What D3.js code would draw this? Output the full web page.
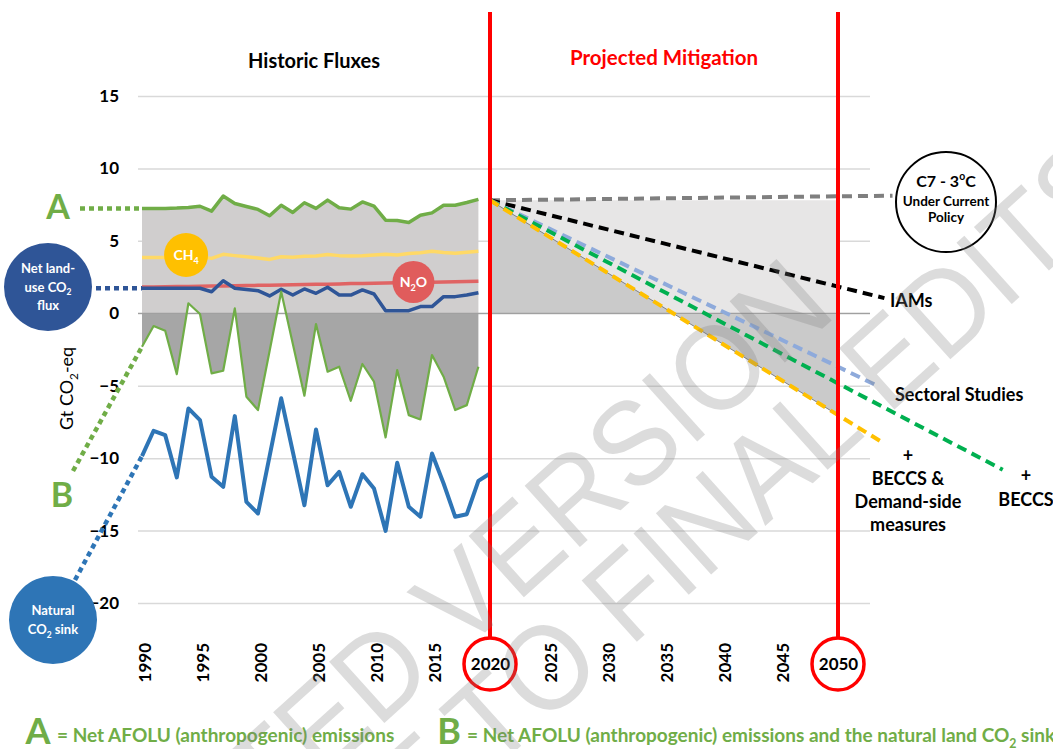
<!DOCTYPE html>
<meta charset="utf-8">
<style>
body { margin: 0; background: #fff; }
svg { display: block; font-family: Lato, "Open Sans", sans-serif; }
</style>
<svg width="1053" height="749"></svg>
<script src="https://cdn.jsdelivr.net/npm/d3@7"></script>
<script>
// historic series, Gt CO2-eq per year
var years = [1990, 1991, 1992, 1993, 1994, 1995, 1996, 1997, 1998, 1999,
             2000, 2001, 2002, 2003, 2004, 2005, 2006, 2007, 2008, 2009,
             2010, 2011, 2012, 2013, 2014, 2015, 2016, 2017, 2018, 2019];
var netAfolu = [7.24, 7.24, 7.24, 7.26, 7.3, 7.39, 7.05, 8.09, 7.58, 7.37,
                7.17, 6.73, 7.46, 6.96, 7.63, 7.24, 7.81, 7.28, 7.19, 7.69,
                7.39, 6.43, 6.41, 6.27, 6.77, 6.93, 7.46, 7.46, 7.65, 7.86];
var ch4 = [3.85, 3.85, 3.85, 3.86, 3.86, 3.88, 3.79, 4.07, 3.98, 3.9,
           3.82, 3.72, 3.9, 3.87, 3.94, 3.96, 4.06, 3.98, 3.96, 3.98,
           4.03, 4.08, 4.02, 4.12, 4.18, 4.28, 4.2, 4.14, 4.22, 4.28];
var n2o = [1.82, 1.82, 1.83, 1.85, 1.85, 1.86, 1.88, 1.88, 1.9, 1.91,
           1.93, 1.94, 1.95, 1.97, 1.99, 2.0, 2.01, 2.03, 2.05, 2.05,
           2.07, 2.09, 2.1, 2.12, 2.13, 2.14, 2.16, 2.18, 2.19, 2.21];
var landUse = [1.73, 1.73, 1.73, 1.73, 1.73, 1.73, 1.49, 2.25, 1.73, 1.65,
               1.56, 1.2, 1.66, 1.26, 1.68, 1.38, 1.8, 1.26, 1.26, 1.61,
               1.33, 0.18, 0.18, 0.18, 0.46, 0.46, 1.15, 1.15, 1.26, 1.42];
var netWithSink = [-2.31, -0.88, -1.2, -4.2, 0.69, -0.05, -4.15, -3.97, 0.34, -5.76,
                   -6.68, -2.6, 1.49, -2.1, -5.69, -0.74, -4.03, -3.69, -6.04, -3.5,
                   -4.72, -8.57, -3.92, -7.03, -7.33, -2.88, -4.38, -6.68, -6.34, -3.69];
var sinkYears = years.concat([2020]);
var naturalSink = [-9.86, -8.11, -8.41, -11.33, -6.57, -7.37, -11.29, -11.98, -7.1, -13.02,
                   -13.82, -9.86, -5.87, -9.56, -13.25, -8.02, -11.87, -10.95, -13.36, -11.11,
                   -12.1, -15.02, -10.32, -13.36, -14.05, -9.68, -11.75, -14.05, -13.87, -11.57, -11.06];

// projected pathways from 2020
var c7Years = [2020, 2054.7], c7Values = [7.8, 8.12];
var iamYears = [2020, 2050, 2054], iamValues = [7.8, 1.84, 1.05];
var sectoralYears = [2020, 2050, 2053.5], sectoralValues = [7.8, -3.69, -5.05];
var beccsYears = [2020, 2050, 2064.2], beccsValues = [7.8, -4.84, -10.8];
var demandYears = [2020, 2050, 2053.6], demandValues = [7.8, -7.03, -8.8];

// axes
var yTicks = [-20, -15, -10, -5, 0, 5, 10, 15];
var xTicks = [1990, 1995, 2000, 2005, 2010, 2015, 2020, 2025, 2030, 2035, 2040, 2045, 2050];
var circledYears = [2020, 2050];

var svg = d3.select("svg");
var gridLeft = 138, gridRight = 870;

var x = d3.scaleLinear().domain([1990, 2050]).range([142, 838]);
var y = d3.scaleLinear().domain([-20, 15]).range([603, 96]);

function pts(xs, vs) { return xs.map(function(d, i) { return [d, vs[i]]; }); }

var line = d3.line()
    .x(function(d) { return x(d[0]); })
    .y(function(d) { return y(d[1]); });

// text with sub/superscripts: parts are strings or [text, "sub"|"sup"]
function rich(t, parts, size) {
  var reset = 0;
  parts.forEach(function(p) {
    if (typeof p === "string") {
      t.append("tspan").attr("dy", reset || null).text(p);
      reset = 0;
    } else {
      var s = p[1] === "sub" ? size * 0.3 : -size * 0.45;
      t.append("tspan").attr("dy", s).attr("font-size", size * 0.65).text(p[0]);
      reset = -s;
    }
  });
  return t;
}

// gridlines
svg.append("g")
    .attr("transform", "translate(" + gridLeft + ",0)")
    .call(d3.axisLeft(y).tickValues(yTicks).tickSize(-(gridRight - gridLeft)).tickFormat(""))
    .call(function(g) { g.select(".domain").remove(); })
  .selectAll("line")
    .attr("stroke", "#d9d9d9")
    .attr("stroke-width", 1.5);

// clip regions above / below zero
var defs = svg.append("defs");
defs.append("clipPath").attr("id", "above")
  .append("rect").attr("x", 0).attr("y", 0).attr("width", 1053).attr("height", y(0));
defs.append("clipPath").attr("id", "below")
  .append("rect").attr("x", 0).attr("y", y(0)).attr("width", 1053).attr("height", 749);

// historic shaded areas
var hist = years.map(function(d, i) { return { year: d, a: netAfolu[i], b: netWithSink[i] }; });
svg.append("path")
    .datum(hist)
    .attr("fill", "#d0cece")
    .attr("d", d3.area().x(function(d) { return x(d.year); })
      .y0(y(0)).y1(function(d) { return y(d.a); }));
var bArea = d3.area().x(function(d) { return x(d.year); })
    .y0(y(0)).y1(function(d) { return y(d.b); });
svg.append("path").datum(hist)
    .attr("clip-path", "url(#below)")
    .attr("fill", "#a6a6a6")
    .attr("d", bArea);
svg.append("path").datum(hist)
    .attr("clip-path", "url(#above)")
    .attr("fill", "#fff")
    .attr("d", bArea);

// projected mitigation band
var band = demandYears.slice(0, 2).map(function(d, i) {
  return { year: d, top: demandValues[0], floor: demandValues[i] };
});
svg.append("path").datum(band)
    .attr("fill", "#e7e6e6")
    .attr("d", d3.area().x(function(d) { return x(d.year); })
      .y0(y(0)).y1(function(d) { return y(d.top); }));
svg.append("path").datum(band)
    .attr("fill", "#cacaca")
    .attr("d", d3.area().x(function(d) { return x(d.year); })
      .y0(y(0)).y1(function(d) { return y(d.floor); }));
svg.append("path").datum(pts(demandYears.slice(0, 2), demandValues.slice(0, 2)))
    .attr("fill", "none").attr("stroke", "#808080").attr("stroke-width", 1)
    .attr("d", line);

// zero line
svg.append("line")
    .attr("x1", gridLeft).attr("x2", gridRight)
    .attr("y1", y(0)).attr("y2", y(0))
    .attr("stroke", "#a0a0a0").attr("stroke-width", 1.2);

// pathway dashed lines
var pathways = [
  { xs: c7Years, vs: c7Values, color: "#7f7f7f" },
  { xs: iamYears, vs: iamValues, color: "#000" },
  { xs: sectoralYears, vs: sectoralValues, color: "#8eaadb" },
  { xs: beccsYears, vs: beccsValues, color: "#00b050" },
  { xs: demandYears, vs: demandValues, color: "#ffc000" }
];
pathways.forEach(function(p) {
  svg.append("path")
      .datum(pts(p.xs, p.vs))
      .attr("fill", "none")
      .attr("stroke", p.color)
      .attr("stroke-width", 4)
      .attr("stroke-dasharray", "10,6")
      .attr("d", line);
});

// historic lines
var series = [
  { vs: netAfolu, xs: years, color: "#70ad47", w: 3.5 },
  { vs: ch4, xs: years, color: "#ffd966", w: 3.5 },
  { vs: n2o, xs: years, color: "#e06464", w: 3.5 },
  { vs: landUse, xs: years, color: "#2f5597", w: 3.5 },
  { vs: netWithSink, xs: years, color: "#70ad47", w: 2.2 },
  { vs: naturalSink, xs: sinkYears, color: "#2e75b6", w: 4 }
];
series.forEach(function(s) {
  svg.append("path")
      .datum(pts(s.xs, s.vs))
      .attr("fill", "none")
      .attr("stroke", s.color)
      .attr("stroke-width", s.w)
      .attr("stroke-linejoin", "round")
      .attr("d", line);
});

// y axis labels
svg.append("g")
    .attr("transform", "translate(119,0)")
    .call(d3.axisLeft(y).tickValues(yTicks).tickSize(0).tickPadding(0))
    .call(function(g) { g.select(".domain").remove(); })
  .selectAll("text")
    .attr("font-family", "Lato, sans-serif")
    .attr("font-size", 17)
    .attr("font-weight", "bold")
    .attr("fill", "#000");

rich(svg.append("text")
    .attr("transform", "translate(73,430) rotate(-90)")
    .attr("font-size", 18)
    .attr("fill", "#000"), ["Gt CO", ["2", "sub"], "-eq"], 18);

// vertical markers at 2020 and 2050
circledYears.forEach(function(yr) {
  svg.append("line")
      .attr("x1", x(yr)).attr("x2", x(yr))
      .attr("y1", 12).attr("y2", 638)
      .attr("stroke", "#ff0000").attr("stroke-width", 4);
  svg.append("circle")
      .attr("cx", x(yr)).attr("cy", 664).attr("r", 26)
      .attr("fill", "#fff").attr("stroke", "#ff0000").attr("stroke-width", 3.5);
});

// x axis
var xAxis = svg.append("g")
    .attr("transform", "translate(0,643)")
    .call(d3.axisBottom(x).tickValues(xTicks).tickFormat(d3.format("d")).tickSize(0))
    .call(function(g) { g.select(".domain").remove(); });
xAxis.selectAll("text")
    .attr("font-family", "Lato, sans-serif")
    .attr("font-size", 17)
    .attr("font-weight", "bold")
    .attr("fill", "#000")
    .attr("transform", "rotate(-90)")
    .attr("text-anchor", "end")
    .attr("x", 0)
    .attr("y", 3)
    .attr("dy", "0.35em");
xAxis.selectAll(".tick")
    .filter(function(d) { return circledYears.indexOf(d) >= 0; })
  .select("text")
    .attr("transform", null)
    .attr("text-anchor", "middle")
    .attr("x", 0)
    .attr("y", 21)
    .attr("dy", "0.35em");

// section titles
svg.append("text")
    .attr("x", 314).attr("y", 68)
    .attr("text-anchor", "middle")
    .attr("font-size", 20).attr("font-weight", "bold")
    .text("Historic Fluxes");
svg.append("text")
    .attr("x", 664).attr("y", 65)
    .attr("text-anchor", "middle")
    .attr("font-size", 20.5).attr("font-weight", "bold")
    .attr("fill", "#ff0000")
    .text("Projected Mitigation");

// left legend: connectors
function dotted(x1, y1, x2, y2, color) {
  svg.append("line")
      .attr("x1", x1).attr("y1", y1).attr("x2", x2).attr("y2", y2)
      .attr("stroke", color).attr("stroke-width", 4.5)
      .attr("stroke-dasharray", "5,4");
}
dotted(80, y(netAfolu[0]), x(1990), y(netAfolu[0]), "#70ad47");
dotted(96, y(landUse[0]), x(1990), y(landUse[0]), "#2f5597");
dotted(73, 471, x(1990), y(netWithSink[0]), "#70ad47");
dotted(75, 580, x(1990), y(naturalSink[0]), "#2e75b6");

function bigLetter(t, cx, cy, size) {
  svg.append("text")
      .attr("x", cx).attr("y", cy)
      .attr("text-anchor", "middle")
      .attr("font-size", size).attr("font-weight", "bold")
      .attr("fill", "#70ad47")
      .text(t);
}
bigLetter("A", 58, 219, 34);
bigLetter("B", 62, 507, 34);

function bubble(cx, cy, r, fill, lines, size) {
  svg.append("circle").attr("cx", cx).attr("cy", cy).attr("r", r).attr("fill", fill);
  lines.forEach(function(l, i) {
    rich(svg.append("text")
        .attr("x", cx).attr("y", cy + (i - (lines.length - 1) / 2) * size * 1.4 + size * 0.35)
        .attr("text-anchor", "middle")
        .attr("font-size", size).attr("font-weight", "bold")
        .attr("fill", "#fff"), l, size);
  });
}
bubble(48, 287, 44, "#2f5597", [["Net land-"], ["use CO", ["2", "sub"]], ["flux"]], 13);
bubble(53, 620, 44, "#2e75b6", [["Natural"], ["CO", ["2", "sub"], " sink"]], 13);
bubble(x(1993.8), 255, 22, "#ffc000", [["CH", ["4", "sub"]]], 14);
bubble(x(2013.4), 282, 21, "#e05c5c", [["N", ["2", "sub"], "O"]], 14);

// C7 bubble
svg.append("circle").attr("cx", 946).attr("cy", 202).attr("r", 50)
    .attr("fill", "#fff").attr("stroke", "#000").attr("stroke-width", 2);
rich(svg.append("text").attr("x", 946).attr("y", 187).attr("text-anchor", "middle")
    .attr("font-size", 16).attr("font-weight", "bold"),
    ["C7 - 3", ["o", "sup"], "C"], 16);
svg.append("text").attr("x", 946).attr("y", 206).attr("text-anchor", "middle")
    .attr("font-size", 13.5).attr("font-weight", "bold").text("Under Current");
svg.append("text").attr("x", 946).attr("y", 222).attr("text-anchor", "middle")
    .attr("font-size", 13.5).attr("font-weight", "bold").text("Policy");

// pathway labels
function label(t, px, py, anchor) {
  svg.append("text")
      .attr("x", px).attr("y", py)
      .attr("text-anchor", anchor || "middle")
      .attr("font-size", 18).attr("font-weight", "bold")
      .text(t);
}
label("IAMs", 890, 307, "start");
label("Sectoral Studies", 895, 401, "start");
label("+", 908, 462);
label("BECCS &", 908, 485);
label("Demand-side", 908, 508);
label("measures", 908, 531);
label("+", 1026, 482);
label("BECCS", 1026, 506);

// bottom key
bigLetter("A", 38, 744, 36);
svg.append("text").attr("x", 57).attr("y", 742)
    .attr("font-size", 19).attr("font-weight", "bold").attr("fill", "#70ad47")
    .text("= Net AFOLU (anthropogenic) emissions");
bigLetter("B", 449, 744, 36);
rich(svg.append("text").attr("x", 467).attr("y", 742)
    .attr("font-size", 19).attr("font-weight", "bold").attr("fill", "#70ad47"),
    ["= Net AFOLU (anthropogenic) emissions and the natural land CO", ["2", "sub"], " sink"], 19);

// watermark
var wm = svg.append("g")
    .attr("font-family", "'Liberation Sans', Arial, sans-serif")
    .attr("font-size", 120)
    .attr("fill", "#7f7f7f")
    .attr("fill-opacity", 0.27)
    .attr("text-anchor", "middle");
wm.append("text").attr("transform", "translate(410,700) rotate(-42) scale(0.94,1)").text("ACCEPTED VERSION");
wm.append("text").attr("transform", "translate(612,664) rotate(-42) scale(0.94,1)").text("SUBJECT TO FINAL EDITS");
</script>
